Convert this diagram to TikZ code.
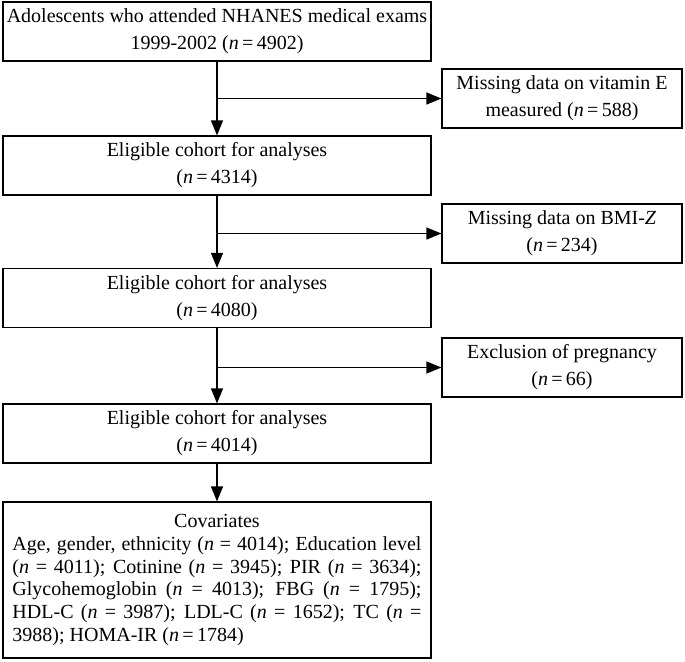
\documentclass[tikz,border=0pt]{standalone}
\usepackage{fontspec}
\setmainfont{Liberation Serif}
\usetikzlibrary{arrows.meta}
\begin{document}
\begin{tikzpicture}[x=1pt,y=1pt,
  box/.style={draw, line width=1.2pt, inner sep=0pt, align=center,
    font=\fontsize{20}{27}\selectfont},
  mainbox/.style={box, minimum width=428pt, minimum height=59pt},
  sidebox/.style={box, minimum width=240pt, minimum height=59pt},
  arr/.style={line width=1.2pt, -{Triangle[length=15pt,width=12pt]}}]
\useasboundingbox (0,0) rectangle (685,-661);
\node[mainbox] (b1) at (217,-31.5) {Adolescents who attended NHANES medical exams\\1999-2002 (\textit{n}\,=\,4902)};
\node[mainbox] (b2) at (217,-165.5) {Eligible cohort for analyses\\(\textit{n}\,=\,4314)};
\node[mainbox] (b3) at (217,-298) {Eligible cohort for analyses\\(\textit{n}\,=\,4080)};
\node[mainbox] (b4) at (217,-433.5) {Eligible cohort for analyses\\(\textit{n}\,=\,4014)};
\node[draw, line width=1.2pt, inner sep=0pt, minimum width=428pt, minimum height=156pt,
  text width=409pt, align=justify, font=\fontsize{20}{22.8}\selectfont] (b5) at (217,-580)
  {{\centering Covariates\par}Age, gender, ethnicity (\textit{n} = 4014); Education level\linebreak
  (\textit{n} = 4011); Cotinine (\textit{n} = 3945); PIR (\textit{n} = 3634);\linebreak
  Glycohemoglobin (\textit{n} = 4013); FBG (\textit{n} = 1795);\linebreak
  HDL-C (\textit{n} = 3987); LDL-C (\textit{n} = 1652); TC (\textit{n} =\linebreak
  3988); HOMA-IR (\textit{n}\,=\,1784)\par};
\node[sidebox] (r1) at (562,-98.5) {Missing data on vitamin E\\measured (\textit{n}\,=\,588)};
\node[sidebox] (r2) at (562,-233.5) {Missing data on BMI-\textit{Z}\\(\textit{n}\,=\,234)};
\node[sidebox] (r3) at (562,-367.5) {Exclusion of pregnancy\\(\textit{n}\,=\,66)};
\draw[arr] (b1) -- (b2);
\draw[arr] (b2) -- (b3);
\draw[arr] (b3) -- (b4);
\draw[arr] (b4) -- (b5);
\draw[arr] (b1.south |- r1.west) -- (r1.west);
\draw[arr] (b2.south |- r2.west) -- (r2.west);
\draw[arr] (b3.south |- r3.west) -- (r3.west);
\end{tikzpicture}
\end{document}
